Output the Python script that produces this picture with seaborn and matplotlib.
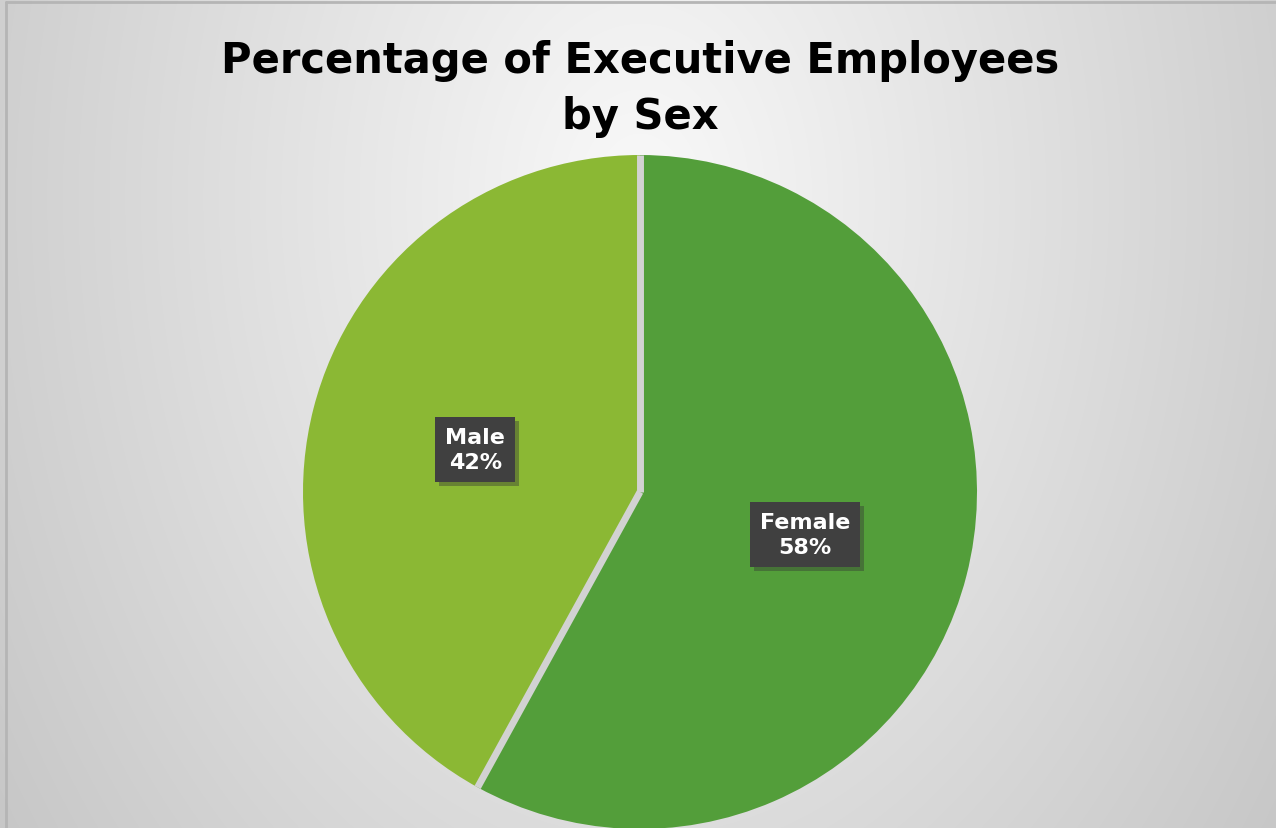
import numpy as np
import seaborn as sns
import matplotlib.pyplot as plt
import matplotlib.patheffects as pe
from matplotlib.lines import Line2D

sns.set_theme(style='white')
plt.rcParams['font.family'] = ['DejaVu Sans']

# data
categories = ['Female', 'Male']
shares = [58, 42]
colors = ['#539e3a', '#8bb834']
title_lines = ['Percentage of Executive Employees', 'by Sex']

W, H = 1276, 829
fig = plt.figure(figsize=(W / 100, H / 100), dpi=100)

# background: soft radial gradient, light near the top middle, grey at the edges
bg = fig.add_axes([0, 0, 1, 1])
yy, xx = np.mgrid[0:H, 0:W]
d = np.sqrt(((xx - 640) / 640.0) ** 2 + ((yy - 200) / 900.0) ** 2)
shade = np.clip(249 - 41 * d, 194, 250) / 255.0
bg.imshow(np.dstack([shade, shade, shade]), extent=[0, W, 0, H], origin='upper', aspect='auto')
bg.set_axis_off()

# frame lines (left and top)
fig.add_artist(Line2D([6 / W, 6 / W], [0, 1 - 3 / H], transform=fig.transFigure, color='#b5b5b5', lw=2))
fig.add_artist(Line2D([6 / W, 1], [1 - 3 / H, 1 - 3 / H], transform=fig.transFigure, color='#b5b5b5', lw=2))

ax = fig.add_axes([0, 0, 1, 1])
cx, cy, r = 640, H - 493, 337
wedges, _ = ax.pie(shares, colors=colors, startangle=90, counterclock=False,
                   center=(cx, cy), radius=r, frame=True,
                   wedgeprops=dict(linewidth=0))
ax.set_xlim(0, W)
ax.set_ylim(0, H)
ax.set_axis_off()

# gaps between the slices
for w in wedges:
    a = np.deg2rad(w.theta1)
    ax.plot([cx, cx + r * np.cos(a)], [cy, cy + r * np.sin(a)],
            color='#d2d2d2', lw=5, solid_capstyle='butt')

for w, name, val in zip(wedges, categories, shares):
    ang = np.deg2rad((w.theta1 + w.theta2) / 2)
    tx = cx + 0.505 * r * np.cos(ang)
    ty = cy + 0.505 * r * np.sin(ang)
    t = ax.text(tx, ty, f'{name}\n{val}%', ha='center', va='center', color='white',
                fontsize=16, fontweight='bold', linespacing=1.3,
                bbox=dict(boxstyle='square,pad=0.45', facecolor='#404040', edgecolor='none'))
    t.get_bbox_patch().set_path_effects([pe.withSimplePatchShadow(offset=(3, -3), shadow_rgbFace='#333333', alpha=0.4)])

fig.text(640 / W, 1 - 56 / H, title_lines[0], ha='center', va='center_baseline', fontsize=30,
         fontweight='bold', color='black')
fig.text(640 / W, 1 - 112 / H, title_lines[1], ha='center', va='center_baseline', fontsize=30,
         fontweight='bold', color='black')

fig.savefig('out.png', dpi=100)
